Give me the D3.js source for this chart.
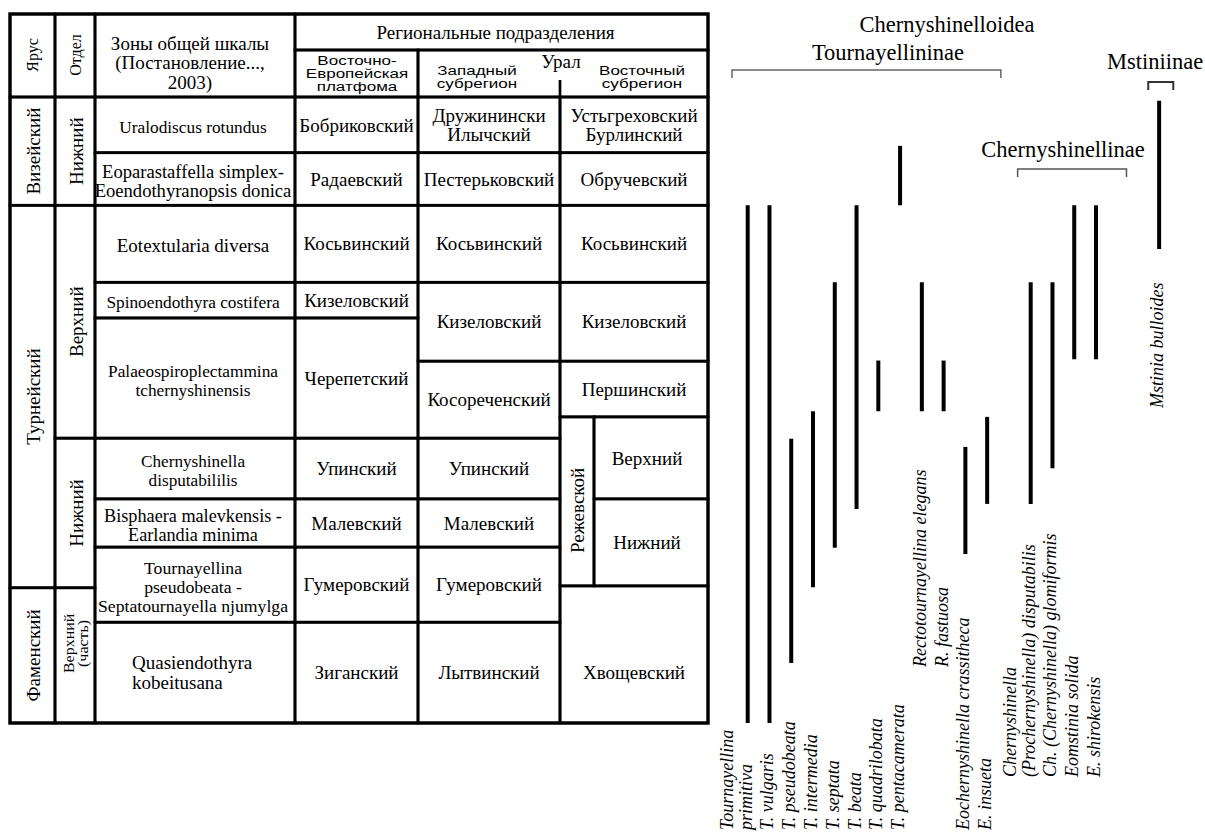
<!DOCTYPE html>
<html><head><meta charset="utf-8">
<script src="https://cdn.jsdelivr.net/npm/d3@7"></script>
<style>body{margin:0;background:#fff}</style>
</head><body>
<svg id="c" width="1205" height="832"></svg>
<script>
// ---------- DATA (stratigraphic position units: 0 = top of Visean, 100 = base of section) ----------
const stages = [
  {name:["Визейский"], top:0, bottom:17.3},
  {name:["Турнейский"], top:17.3, bottom:78.4},
  {name:["Фаменский"], top:78.4, bottom:100}
];
const substages = [
  {name:["Нижний"], top:0, bottom:17.3},
  {name:["Верхний"], top:17.3, bottom:54.5},
  {name:["Нижний"], top:54.5, bottom:78.4},
  {name:["Верхний","(часть)"], top:78.4, bottom:100}
];
const zones = [
  {name:["Uralodiscus rotundus"], top:0, bottom:8.9},
  {name:["Eoparastaffella simplex-","Eoendothyranopsis donica"], top:8.9, bottom:17.3},
  {name:["Eotextularia diversa"], top:17.3, bottom:29.6},
  {name:["Spinoendothyra costifera"], top:29.6, bottom:35.3},
  {name:["Palaeospiroplectammina","tchernyshinensis"], top:35.3, bottom:54.5},
  {name:["Chernyshinella","disputabililis"], top:54.5, bottom:64.2},
  {name:["Bisphaera malevkensis -","Earlandia minima"], top:64.2, bottom:71.9},
  {name:["Tournayellina","pseudobeata -","Septatournayella njumylga"], top:71.9, bottom:83.9},
  {name:["Quasiendothyra","kobeitusana"], top:83.9, bottom:100}
];
const eastEuropean = [
  {name:["Бобриковский"], top:0, bottom:8.9},
  {name:["Радаевский"], top:8.9, bottom:17.3},
  {name:["Косьвинский"], top:17.3, bottom:29.6},
  {name:["Кизеловский"], top:29.6, bottom:35.3},
  {name:["Черепетский"], top:35.3, bottom:54.5},
  {name:["Упинский"], top:54.5, bottom:64.2},
  {name:["Малевский"], top:64.2, bottom:71.9},
  {name:["Гумеровский"], top:71.9, bottom:83.9},
  {name:["Зиганский"], top:83.9, bottom:100}
];
const westUral = [
  {name:["Дружинински","Илычский"], top:0, bottom:8.9},
  {name:["Пестерьковский"], top:8.9, bottom:17.3},
  {name:["Косьвинский"], top:17.3, bottom:29.6},
  {name:["Кизеловский"], top:29.6, bottom:42.2},
  {name:["Косореченский"], top:42.2, bottom:54.5},
  {name:["Упинский"], top:54.5, bottom:64.2},
  {name:["Малевский"], top:64.2, bottom:71.9},
  {name:["Гумеровский"], top:71.9, bottom:83.9},
  {name:["Лытвинский"], top:83.9, bottom:100}
];
const eastUral = [
  {name:["Устьгреховский","Бурлинский"], top:0, bottom:8.9},
  {name:["Обручевский"], top:8.9, bottom:17.3},
  {name:["Косьвинский"], top:17.3, bottom:29.6},
  {name:["Кизеловский"], top:29.6, bottom:42.2},
  {name:["Першинский"], top:42.2, bottom:51.1},
  {name:["Хвощевский"], top:78.1, bottom:100, textTop:83.9}
];
const rezhevskoy = {name:"Режевской", top:51.1, bottom:78.1};
const rezhevskoyParts = [
  {name:["Верхний"], top:51.1, bottom:64.2},
  {name:["Нижний"], top:64.2, bottom:78.1}
];
const headers = {
  yarus:"Ярус", otdel:"Отдел",
  zone:["Зоны общей шкалы","(Постановление...,","2003)"],
  regional:"Региональные подразделения",
  ee:["Восточно-","Европейская","платфома"],
  west:["Западный","субрегион"],
  ural:"Урал",
  east:["Восточный","субрегион"]
};
const groups = [
  {name:"Tournayellininae", first:0, last:11},
  {name:"Chernyshinellinae", first:12, last:15},
  {name:"Mstiniinae", first:16, last:16}
];
const superfamily = "Chernyshinelloidea";
const species = [
  {label:["Tournayellina","primitiva"], top:17.3, bottom:100},
  {label:["T. vulgaris"], top:17.3, bottom:100},
  {label:["T. pseudobeata"], top:54.6, bottom:90.4},
  {label:["T. intermedia"], top:50.2, bottom:78.3},
  {label:["T. septata"], top:29.6, bottom:72.0},
  {label:["T. beata"], top:17.3, bottom:65.8},
  {label:["T. quadrilobata"], top:42.1, bottom:50.2},
  {label:["T. pentacamerata"], top:7.8, bottom:17.3},
  {label:["Rectotournayellina elegans"], top:29.6, bottom:50.2},
  {label:["R. fastuosa"], top:42.1, bottom:50.2},
  {label:["Eochernyshinella crassitheca"], top:55.9, bottom:73.0},
  {label:["E. insueta"], top:51.1, bottom:65.0},
  {label:["Chernyshinella","(Prochernyshinella) disputabilis"], top:29.6, bottom:65.0},
  {label:["Ch. (Chernyshinella) glomiformis"], top:29.6, bottom:59.3},
  {label:["Eomstinia solida"], top:17.3, bottom:41.9},
  {label:["E. shirokensis"], top:17.3, bottom:41.9},
  {label:["Mstinia bulloides"], top:0.6, bottom:24.3}
];

// ---------- LAYOUT ----------
const svg = d3.select("#c");
const SERIF = "'Liberation Serif','Times New Roman',serif";
const SANS = "'Liberation Sans',Arial,sans-serif";
const y = d3.scaleLinear().domain([0,100]).range([97,723]);
const HEAD_TOP = 14, HEAD_MID = 50;
const col = {yarus:[10,55], otdel:[55,95], zone:[95,295], ee:[295,418], west:[418,560], east:[560,708], rezh:[560,594]};
const zoneFont = [17.3,18.6,19,17.3,17.3,17.2,18.2,17.7,19];

const gLines = svg.append("g").attr("fill","none").attr("stroke","#000");
const gText = svg.append("g").attr("font-family",SERIF).attr("fill","#000");

function box(x0,x1,y0,y1,w){
  gLines.append("rect").attr("x",x0).attr("y",y0).attr("width",x1-x0).attr("height",y1-y0)
    .attr("stroke-width",w||2.7);
}
function hText(lines,cx,cy,opt){
  opt=opt||{};
  const fs=opt.fs||19, lh=opt.lh||fs*1.0, sy=opt.sy||1;
  const t=gText.append("text").attr("font-size",fs).attr("text-anchor",opt.anchor||"middle")
    .attr("font-family",opt.family||SERIF)
    .attr("transform",`translate(${cx},${cy}) scale(1,${sy})`);
  lines.forEach((s,i)=>{
    t.append("tspan").attr("x",0).attr("y",(i-(lines.length-1)/2)*lh/sy).attr("dy","0.35em").text(s);
  });
  return t;
}
function vText(lines,cx,cy,opt){
  opt=opt||{};
  const fs=opt.fs||19, lh=opt.lh||fs*1.0, sy=opt.sy||1;
  const t=gText.append("text").attr("font-size",fs).attr("text-anchor","middle")
    .attr("transform",`translate(${cx},${cy}) rotate(-90) scale(1,${sy})`);
  lines.forEach((s,i)=>{
    t.append("tspan").attr("x",0).attr("y",(i-(lines.length-1)/2)*lh/sy).attr("dy","0.35em").text(s);
  });
}

// header
box(col.yarus[0],col.yarus[1],HEAD_TOP,y(0));
box(col.otdel[0],col.otdel[1],HEAD_TOP,y(0));
box(col.zone[0],col.zone[1],HEAD_TOP,y(0));
box(col.ee[0],col.east[1],HEAD_TOP,HEAD_MID);
box(col.ee[0],col.ee[1],HEAD_MID,y(0));
box(col.west[0],col.east[1],HEAD_MID,y(0));
gLines.append("line").attr("x1",col.west[1]).attr("x2",col.west[1]).attr("y1",80).attr("y2",y(0)).attr("stroke-width",2.7);
vText([headers.yarus],(col.yarus[0]+col.yarus[1])/2,55,{fs:16});
vText([headers.otdel],(col.otdel[0]+col.otdel[1])/2,55,{fs:16});
hText(headers.zone,190,62.5,{fs:19,lh:19.5});
hText([headers.regional],(col.ee[0]+col.east[1])/2-6,32,{fs:19});
hText(headers.ee,357,74,{fs:17,lh:13,sy:0.72,family:SANS});
hText(headers.west,477,77,{fs:17,lh:13,sy:0.72,family:SANS});
hText([headers.ural],561,61,{fs:19});
hText(headers.east,642,77,{fs:17,lh:13,sy:0.72,family:SANS});

// columns
stages.forEach(d=>{ box(col.yarus[0],col.yarus[1],y(d.top),y(d.bottom)); vText(d.name,(col.yarus[0]+col.yarus[1])/2+1,(y(d.top)+y(d.bottom))/2,{fs:19}); });
substages.forEach((d,i)=>{
  box(col.otdel[0],col.otdel[1],y(d.top),y(d.bottom));
  const two = d.name.length>1;
  vText(d.name,(col.otdel[0]+col.otdel[1])/2+1,(y(d.top)+y(d.bottom))/2-(two?12:0),two?{fs:16,lh:13.5,sy:0.85}:{fs:19});
});
zones.forEach((d,i)=>{
  box(col.zone[0],col.zone[1],y(d.top),y(d.bottom));
  const last = i===zones.length-1;
  if(last) hText(d.name,132,(y(d.top)+y(d.bottom))/2,{fs:zoneFont[i],lh:20,anchor:"start"});
  else hText(d.name,193,(y(d.top)+y(d.bottom))/2+2,{fs:zoneFont[i],lh:19});
});
function regCol(arr,c){
  arr.forEach(d=>{
    box(c[0],c[1],y(d.top),y(d.bottom));
    const tt = d.textTop!==undefined? d.textTop : d.top;
    hText(d.name,(c[0]+c[1])/2,(y(tt)+y(d.bottom))/2,{fs:19,lh:19.5});
  });
}
regCol(eastEuropean,col.ee);
regCol(westUral,col.west);
regCol(eastUral,col.east);
box(col.rezh[0],col.rezh[1],y(rezhevskoy.top),y(rezhevskoy.bottom));
vText([rezhevskoy.name],(col.rezh[0]+col.rezh[1])/2,(y(rezhevskoy.top)+y(rezhevskoy.bottom))/2+9,{fs:19});
rezhevskoyParts.forEach(d=>{
  box(col.rezh[1],col.east[1],y(d.top),y(d.bottom));
  hText(d.name,(col.rezh[1]+col.east[1])/2-4,(y(d.top)+y(d.bottom))/2,{fs:19});
});
// outer border
box(col.yarus[0],col.east[1],HEAD_TOP,y(100),3.2);

// ---------- RANGE CHART ----------
const groupOffset = [0,1,2.9];
const slots = [];
groups.forEach((g,gi)=>{ for(let i=g.first;i<=g.last;i++) slots[i]=i+groupOffset[gi]; });
const x = d3.scaleLinear().domain([0,16]).range([747.7,1096]);
const gBars = svg.append("g").attr("stroke","#000").attr("stroke-width",4);
species.forEach((d,i)=>{
  gBars.append("line").attr("x1",x(slots[i])).attr("x2",x(slots[i])).attr("y1",y(d.top)).attr("y2",y(d.bottom));
});
// label anchors (pixel y of label start) by group / special cases
const labelStart = i => (i===8||i===9)?667 : (i>=12&&i<=15)?777 : (i===16)?408 : 830;
const gLab = svg.append("g").attr("font-family",SERIF).attr("font-style","italic").attr("font-size",18);
species.forEach((d,i)=>{
  const bx = x(slots[i]);
  const n = d.label.length;
  d.label.forEach((s,k)=>{
    const bl = bx + 4 - (n-1-k)*19;
    gLab.append("text").attr("transform",`translate(${bl},${labelStart(i)}) rotate(-90)`).text(s);
  });
});
// group brackets
const bracketPad = [[-0.72,0.63],[-0.6,1.4],[-0.5,0.65]];
const bracketY = [70,169,82];
const titleY = [60,157,69];
const titleX = [888,1063,1155];
const bracketStroke = [["#666",1.5],["#555",1.5],["#333",2]];
groups.forEach((g,gi)=>{
  const x0=x(slots[g.first]+bracketPad[gi][0]), x1=x(slots[g.last]+bracketPad[gi][1]);
  const by=bracketY[gi];
  svg.append("path").attr("d",`M${x0},${by+8}V${by}H${x1}V${by+8}`).attr("fill","none")
    .attr("stroke",bracketStroke[gi][0]).attr("stroke-width",bracketStroke[gi][1]);
  svg.append("text").attr("x",titleX[gi]).attr("y",titleY[gi]).attr("text-anchor","middle")
    .attr("font-family",SERIF).attr("font-size",22.5).text(g.name);
});
svg.append("text").attr("x",947).attr("y",32).attr("text-anchor","middle")
  .attr("font-family",SERIF).attr("font-size",22.5).text(superfamily);
</script>
</body></html>
